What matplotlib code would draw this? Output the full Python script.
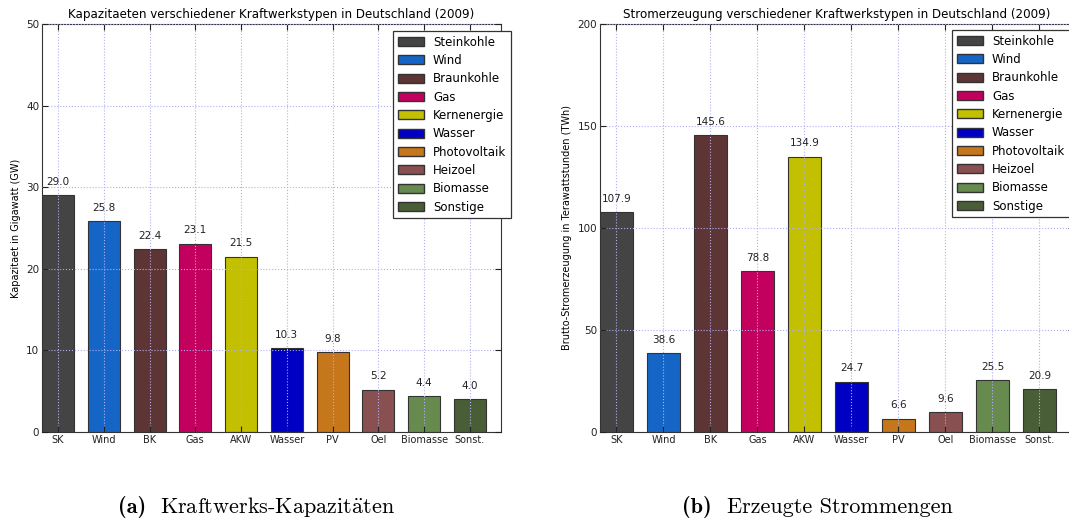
import matplotlib
matplotlib.use("Agg")
import matplotlib.pyplot as plt
from matplotlib.patches import Patch

plt.rcParams["mathtext.fontset"] = "cm"

# data
kurz = ["SK", "Wind", "BK", "Gas", "AKW", "Wasser", "PV", "Oel", "Biomasse", "Sonst."]
namen = ["Steinkohle", "Wind", "Braunkohle", "Gas", "Kernenergie", "Wasser",
         "Photovoltaik", "Heizoel", "Biomasse", "Sonstige"]
farben = ["#444444", "#1565c6", "#5e3535", "#c4005f", "#c2c000", "#0000c4",
          "#c6761b", "#885050", "#678a4e", "#495e37"]
kapazitaet = [29.0, 25.8, 22.4, 23.1, 21.5, 10.3, 9.8, 5.2, 4.4, 4.0]
erzeugung = [107.9, 38.6, 145.6, 78.8, 134.9, 24.7, 6.6, 9.6, 25.5, 20.9]

fig = plt.figure(figsize=(10.69, 5.21), dpi=100)
ax1 = fig.add_axes([42 / 1069, 89 / 521, 459 / 1069, 408 / 521])
ax2 = fig.add_axes([600 / 1069, 89 / 521, 474 / 1069, 408 / 521])


def zeichne(ax, werte, ymax, yticks, titel, ylabel, xmax, leg_x, leg_y):
    x = range(len(werte))
    ax.bar(x, werte, width=0.7, color=farben, edgecolor="#333333", linewidth=0.8, zorder=2)
    for xi, w in zip(x, werte):
        ax.annotate("%.1f" % w, (xi, w), xytext=(0, 6), textcoords="offset points",
                    ha="center", va="bottom", fontsize=7.5, color="#222222")
    ax.set_xlim(-0.35, xmax)
    ax.set_ylim(0, ymax)
    ax.set_yticks(yticks)
    ax.set_xticks(list(x))
    ax.set_xticklabels(kurz, fontsize=7)
    ax.tick_params(axis="y", labelsize=7.5)
    ax.tick_params(direction="in", top=True, right=True, length=4, pad=2, colors="#222222")
    ax.grid(True, color="#b0b0f0", linestyle=":", linewidth=0.8, zorder=3)
    ax.set_axisbelow(False)
    ax.set_title(titel, fontsize=8.6, pad=4)
    ax.set_ylabel(ylabel, fontsize=7)
    for s in ax.spines.values():
        s.set_color("#333333")
    handles = [Patch(facecolor=c, edgecolor="#333333", label=n) for c, n in zip(farben, namen)]
    leg = ax.legend(handles=handles, loc="upper right", bbox_to_anchor=(leg_x, leg_y),
                    fontsize=8.5, fancybox=False, framealpha=1, edgecolor="#333333",
                    handlelength=2.2, handleheight=0.8, labelspacing=0.45, borderaxespad=0)
    leg.get_frame().set_linewidth(0.9)
    leg.set_zorder(5)


zeichne(ax1, kapazitaet, 50, [0, 10, 20, 30, 40, 50],
        "Kapazitaeten verschiedener Kraftwerkstypen in Deutschland (2009)",
        "Kapazitaet in Gigawatt (GW)", 9.68, (511 - 42) / 459, (432 - 31) / 408)
zeichne(ax2, erzeugung, 200, [0, 50, 100, 150, 200],
        "Stromerzeugung verschiedener Kraftwerkstypen in Deutschland (2009)",
        "Brutto-Stromerzeugung in Terawattstunden (TWh)", 9.735,
        (1070 - 600) / 474, (432 - 30) / 408)

# captions
fam = ["cmr10", "DejaVu Serif"]
famb = ["cmb10", "DejaVu Serif"]
fig.text(118 / 1069, 14 / 521, "(a)", fontsize=16, family=famb, va="center")
fig.text(160 / 1069, 14 / 521, r"Kraftwerks-Kapazit$\ddot{\mathrm{a}}$ten", fontsize=16,
         family=fam, va="center")
fig.text(682 / 1069, 14 / 521, "(b)", fontsize=16, family=famb, va="center")
fig.text(727 / 1069, 14 / 521, "Erzeugte Strommengen", fontsize=16, family=fam, va="center")

fig.savefig("out.png", dpi=100)
